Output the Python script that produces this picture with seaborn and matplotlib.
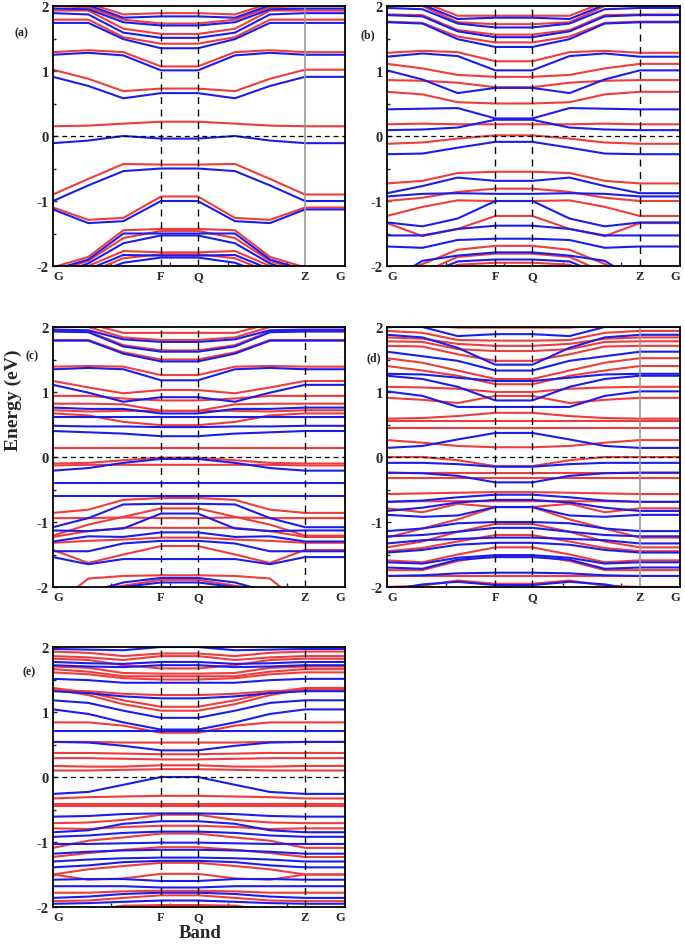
import numpy as np
import pandas as pd
import matplotlib
matplotlib.use("Agg")
import matplotlib.pyplot as plt
import seaborn as sns

# ---------------- data ----------------
# k-path: G -> k1 -> k2 -> F -> Q -> k5 -> k6 -> Z -> G (fractional positions)
kpoint_pos = [0.0, 0.121, 0.241, 0.370, 0.496, 0.623, 0.743, 0.863, 1.0]
klabel_pos = [0.0, 0.370, 0.496, 0.863, 1.0]
klabels = ["G", "F", "Q", "Z", "G"]
yticks = [-2, -1, 0, 1, 2]
ytick_labels = ["-2", "-1", "0", "1", "2"]
panel_names = ["(a)", "(b)", "(c)", "(d)", "(e)"]

# each band: energies (eV) read at G, k1, k2, F (path is mirror-symmetric about F-Q,
# Z equals G and Z-G is flat in the picture)
red_a = [
    [2.10, 2.04, 1.87, 1.89], [2.00, 1.98, 1.79, 1.73], [1.93, 1.93, 1.65, 1.57],
    [1.79, 1.79, 1.52, 1.42], [1.29, 1.32, 1.29, 1.07], [1.02, 0.88, 0.69, 0.73],
    [0.15, 0.16, 0.19, 0.22], [-0.90, -0.66, -0.43, -0.44], [-1.10, -1.29, -1.26, -0.93],
    [-2.02, -1.86, -1.45, -1.43], [-2.10, -1.92, -1.57, -1.46], [-2.20, -2.00, -1.77, -1.79],
    [-2.30, -2.10, -1.88, -1.82],
]
blue_a = [
    [2.06, 2.01, 1.82, 1.84], [1.96, 1.95, 1.75, 1.70], [1.89, 1.87, 1.59, 1.51],
    [1.74, 1.74, 1.49, 1.35], [1.25, 1.28, 1.24, 1.01], [0.91, 0.77, 0.58, 0.66],
    [-0.11, -0.07, 0.00, -0.04], [-1.00, -0.76, -0.54, -0.50], [-1.13, -1.34, -1.31, -1.00],
    [-2.06, -1.90, -1.50, -1.50], [-2.15, -1.96, -1.65, -1.53], [-2.25, -2.05, -1.83, -1.84],
    [-2.35, -2.15, -1.95, -1.87],
]
red_b = [
    [2.08, 2.06, 1.85, 1.85], [2.00, 2.00, 1.75, 1.72], [1.87, 1.86, 1.63, 1.56],
    [1.76, 1.74, 1.53, 1.44], [1.28, 1.31, 1.29, 1.15], [1.11, 1.04, 0.94, 0.91],
    [0.86, 0.85, 0.82, 0.75], [0.68, 0.64, 0.52, 0.50], [0.18, 0.19, 0.18, 0.18],
    [-0.12, -0.10, -0.04, 0.01], [-0.73, -0.69, -0.57, -0.55], [-1.00, -0.95, -0.86, -0.81],
    [-1.23, -1.09, -0.99, -1.00], [-1.34, -1.54, -1.43, -1.23], [-2.20, -1.97, -1.75, -1.69],
    [-2.30, -2.10, -1.86, -1.81], [-2.40, -2.20, -1.98, -1.95],
]
blue_b = [
    [2.04, 2.02, 1.80, 1.82], [1.97, 1.95, 1.73, 1.67], [1.86, 1.84, 1.61, 1.52],
    [1.75, 1.73, 1.49, 1.37], [1.22, 1.27, 1.23, 1.01], [1.01, 0.87, 0.66, 0.74],
    [0.41, 0.42, 0.43, 0.27], [0.09, 0.10, 0.13, 0.25], [-0.28, -0.27, -0.18, -0.09],
    [-0.88, -0.77, -0.64, -0.69], [-0.93, -0.89, -0.88, -0.89], [-1.33, -1.39, -1.27, -1.00],
    [-1.53, -1.53, -1.43, -1.38], [-1.70, -1.72, -1.60, -1.58], [-2.25, -1.92, -1.84, -1.79],
    [-2.35, -2.15, -1.93, -1.90],
]
red_c = [
    [2.10, 2.05, 1.91, 1.91], [2.00, 2.00, 1.84, 1.80], [1.94, 1.93, 1.72, 1.64],
    [1.80, 1.80, 1.61, 1.50], [1.39, 1.40, 1.39, 1.26], [1.17, 1.07, 0.98, 1.03],
    [0.94, 0.94, 0.90, 0.87], [0.82, 0.82, 0.81, 0.71], [0.72, 0.70, 0.71, 0.71],
    [0.67, 0.64, 0.54, 0.49], [0.14, 0.14, 0.14, 0.14], [-0.10, -0.09, -0.05, -0.01],
    [-0.13, -0.12, -0.12, -0.12], [-0.86, -0.81, -0.66, -0.63], [-0.94, -0.94, -0.93, -0.94],
    [-1.21, -1.04, -0.92, -0.79], [-1.23, -1.14, -1.09, -1.09], [-1.32, -1.29, -1.27, -1.24],
    [-1.43, -1.63, -1.50, -1.37], [-2.30, -1.87, -1.83, -1.82], [-2.40, -2.05, -1.98, -1.89],
]
blue_c = [
    [1.96, 1.95, 1.81, 1.77], [1.93, 1.92, 1.70, 1.62], [1.79, 1.79, 1.59, 1.47],
    [1.35, 1.37, 1.35, 1.18], [1.11, 0.99, 0.85, 0.92], [0.76, 0.74, 0.74, 0.67],
    [0.61, 0.61, 0.61, 0.61], [0.48, 0.47, 0.47, 0.46], [0.40, 0.38, 0.36, 0.32],
    [-0.21, -0.17, -0.09, -0.03], [-0.40, -0.40, -0.40, -0.40], [-0.60, -0.60, -0.60, -0.60],
    [-1.08, -0.94, -0.73, -0.72], [-1.13, -1.14, -1.10, -0.87], [-1.30, -1.22, -1.23, -1.16],
    [-1.45, -1.45, -1.33, -1.29], [-1.54, -1.65, -1.57, -1.57], [-2.40, -2.08, -1.93, -1.86],
    [-2.50, -2.15, -2.00, -1.93],
]
red_d = [
    [2.05, 2.03, 1.99, 1.99], [1.94, 1.91, 1.80, 1.79], [1.84, 1.82, 1.74, 1.71],
    [1.78, 1.77, 1.66, 1.63], [1.71, 1.70, 1.58, 1.48], [1.52, 1.45, 1.33, 1.20],
    [1.40, 1.33, 1.25, 1.12], [1.08, 1.07, 1.05, 1.00], [0.91, 0.88, 0.83, 0.94],
    [0.59, 0.60, 0.63, 0.68], [0.55, 0.55, 0.55, 0.55], [0.44, 0.44, 0.44, 0.44],
    [0.26, 0.22, 0.17, 0.15], [0.00, 0.00, -0.05, -0.14], [-0.24, -0.24, -0.24, -0.24],
    [-0.32, -0.32, -0.32, -0.32], [-0.57, -0.56, -0.55, -0.54], [-0.69, -0.68, -0.68, -0.68],
    [-0.79, -0.85, -0.72, -0.77], [-1.24, -1.10, -0.96, -0.77], [-1.39, -1.30, -1.15, -1.03],
    [-1.45, -1.40, -1.30, -1.20], [-1.59, -1.62, -1.50, -1.39], [-1.74, -1.74, -1.60, -1.51],
    [-1.83, -1.83, -1.83, -1.83], [-2.00, -1.98, -1.90, -1.95],
]
blue_d = [
    [2.00, 2.00, 1.86, 1.89], [1.88, 1.84, 1.68, 1.42], [1.62, 1.55, 1.48, 1.33],
    [1.28, 1.27, 1.22, 1.17], [1.25, 1.20, 1.08, 0.87], [1.01, 0.94, 0.77, 0.77],
    [0.14, 0.17, 0.27, 0.37], [-0.09, -0.09, -0.11, -0.15], [-0.24, -0.25, -0.29, -0.39],
    [-0.69, -0.67, -0.62, -0.58], [-0.83, -0.78, -0.70, -0.66], [-0.89, -0.92, -0.90, -0.77],
    [-1.14, -1.10, -1.02, -1.00], [-1.22, -1.20, -1.15, -1.09], [-1.33, -1.28, -1.26, -1.24],
    [-1.47, -1.43, -1.35, -1.32], [-1.62, -1.64, -1.55, -1.51], [-1.70, -1.72, -1.58, -1.54],
    [-1.83, -1.82, -1.79, -1.78], [-2.05, -1.96, -1.92, -1.97],
]
red_e = [
    [1.93, 1.91, 1.86, 1.90], [1.86, 1.84, 1.80, 1.86], [1.82, 1.80, 1.72, 1.67],
    [1.70, 1.68, 1.60, 1.59], [1.66, 1.62, 1.55, 1.55], [1.61, 1.58, 1.52, 1.50],
    [1.37, 1.30, 1.18, 1.08], [1.35, 1.26, 1.12, 1.02], [1.33, 1.32, 1.28, 1.26],
    [0.84, 0.84, 0.79, 0.68], [0.54, 0.54, 0.53, 0.53], [0.37, 0.37, 0.36, 0.35],
    [0.29, 0.29, 0.28, 0.27], [0.17, 0.16, 0.16, 0.18], [0.10, 0.10, 0.11, 0.12],
    [-0.33, -0.31, -0.30, -0.29], [-0.42, -0.42, -0.42, -0.42], [-0.45, -0.45, -0.45, -0.45],
    [-0.71, -0.70, -0.66, -0.58], [-0.79, -0.80, -0.77, -0.75], [-1.09, -0.98, -0.93, -0.87],
    [-1.23, -1.17, -1.12, -1.08], [-1.50, -1.42, -1.37, -1.32], [-1.50, -1.58, -1.56, -1.49],
    [-1.78, -1.78, -1.76, -1.75], [-1.91, -1.90, -1.86, -1.82], [-2.10, -2.05, -1.98, -1.97],
]
blue_e = [
    [1.97, 1.96, 1.95, 2.00], [1.77, 1.75, 1.74, 1.77], [1.72, 1.70, 1.69, 1.72],
    [1.51, 1.49, 1.45, 1.45], [1.32, 1.29, 1.24, 1.21], [1.18, 1.14, 1.02, 0.91],
    [1.04, 0.97, 0.84, 0.73], [0.71, 0.71, 0.71, 0.71], [0.54, 0.53, 0.48, 0.41],
    [-0.26, -0.23, -0.12, 0.00], [-0.61, -0.60, -0.57, -0.56], [-0.85, -0.82, -0.72, -0.68],
    [-0.92, -0.90, -0.86, -0.84], [-1.03, -1.03, -1.02, -1.01], [-1.18, -1.15, -1.13, -1.12],
    [-1.30, -1.27, -1.25, -1.24], [-1.39, -1.36, -1.31, -1.29], [-1.58, -1.57, -1.57, -1.60],
    [-1.68, -1.68, -1.68, -1.70], [-1.86, -1.84, -1.80, -1.78], [-1.95, -1.94, -1.92, -1.90],
]
panels_red = [red_a, red_b, red_c, red_d, red_e]
panels_blue = [blue_a, blue_b, blue_c, blue_d, blue_e]
z_line_solid = [True, False, False, True, False]

RED = "#f03c3c"
BLUE = "#1c1ced"

# ---------------- style ----------------
sns.set_style("white")
plt.rcParams["font.family"] = ["Liberation Serif", "DejaVu Serif"]
plt.rcParams["font.weight"] = "bold"

W, H = 685, 945
fig = plt.figure(figsize=(W / 100, H / 100), dpi=100)

# axes boxes in pixels: (left, top, right, bottom)
boxes = [(53, 7, 345, 267), (387, 7, 680, 267),
         (53, 328, 345, 588), (387, 328, 680, 588),
         (53, 648, 345, 908)]
label_xy = [(21, 33), (368, 35), (32, 356), (374, 358), (29, 672)]


def to_path(b):
    g, k1, k2, f = b
    return [g, k1, k2, f, f, k2, k1, g, g]


for i, (l, t, r, b) in enumerate(boxes):
    ax = fig.add_axes([l / W, 1 - b / H, (r - l) / W, (b - t) / H])
    rows = []
    for spin, bands in (("up", panels_red[i]), ("down", panels_blue[i])):
        for j, band in enumerate(bands):
            for x, e in zip(kpoint_pos, to_path(band)):
                rows.append({"k": x, "E": e, "spin": spin, "band": f"{spin}{j}"})
    df = pd.DataFrame(rows)
    sns.lineplot(data=df, x="k", y="E", hue="spin", units="band", estimator=None,
                 palette={"up": RED, "down": BLUE}, linewidth=1.5, legend=False,
                 sort=False, ax=ax)
    # high-symmetry lines
    for xp in klabel_pos[1:3]:
        ax.axvline(xp, color="black", lw=1.0, ls=(0, (5, 4)), zorder=3)
    if z_line_solid[i]:
        ax.axvline(klabel_pos[3], color="#9a9a9a", lw=1.2, zorder=3)
    else:
        ax.axvline(klabel_pos[3], color="black", lw=1.0, ls=(0, (5, 4)), zorder=3)
    ax.axhline(0, color="black", lw=0.9, ls=(0, (4, 3)), zorder=3)

    ax.set_xlim(0, 1)
    ax.set_ylim(-2, 2)
    ax.set_xlabel("")
    ax.set_ylabel("")
    ax.set_yticks(yticks)
    ax.set_yticklabels(ytick_labels, fontsize=10.5, fontweight="bold")
    ax.set_yticks([-1.5, -0.5, 0.5, 1.5], minor=True)
    ax.set_xticks(klabel_pos)
    ax.set_xticklabels(klabels, fontsize=9, fontweight="bold")
    xl = ax.get_xticklabels()
    xl[0].set_ha("left")
    xl[-1].set_ha("right")
    ax.set_xticks([0.2, 0.4, 0.6, 0.8], minor=True)
    ax.tick_params(axis="x", which="major", length=0, pad=3)
    ax.tick_params(axis="x", which="minor", direction="in", length=3, width=1, bottom=True)
    ax.tick_params(axis="y", which="major", direction="in", length=3, width=1, left=True, pad=3)
    ax.tick_params(axis="y", which="minor", direction="in", length=2, width=1, left=True)
    for s in ax.spines.values():
        s.set_color("black")
        s.set_linewidth(1.3)
        s.set_zorder(5)
    fig.text(label_xy[i][0] / W, 1 - label_xy[i][1] / H, panel_names[i],
             fontsize=8.5, fontweight="bold", ha="center", va="center")

fig.text(13 / W, 1 - 400 / H, "Energy (eV)", rotation=90, fontsize=14,
         fontweight="bold", ha="center", va="center")
fig.text(200 / W, 1 - 934 / H, "Band", fontsize=13.5, fontweight="bold",
         ha="center", va="center")

fig.savefig("out.png", dpi=100, facecolor="white")
